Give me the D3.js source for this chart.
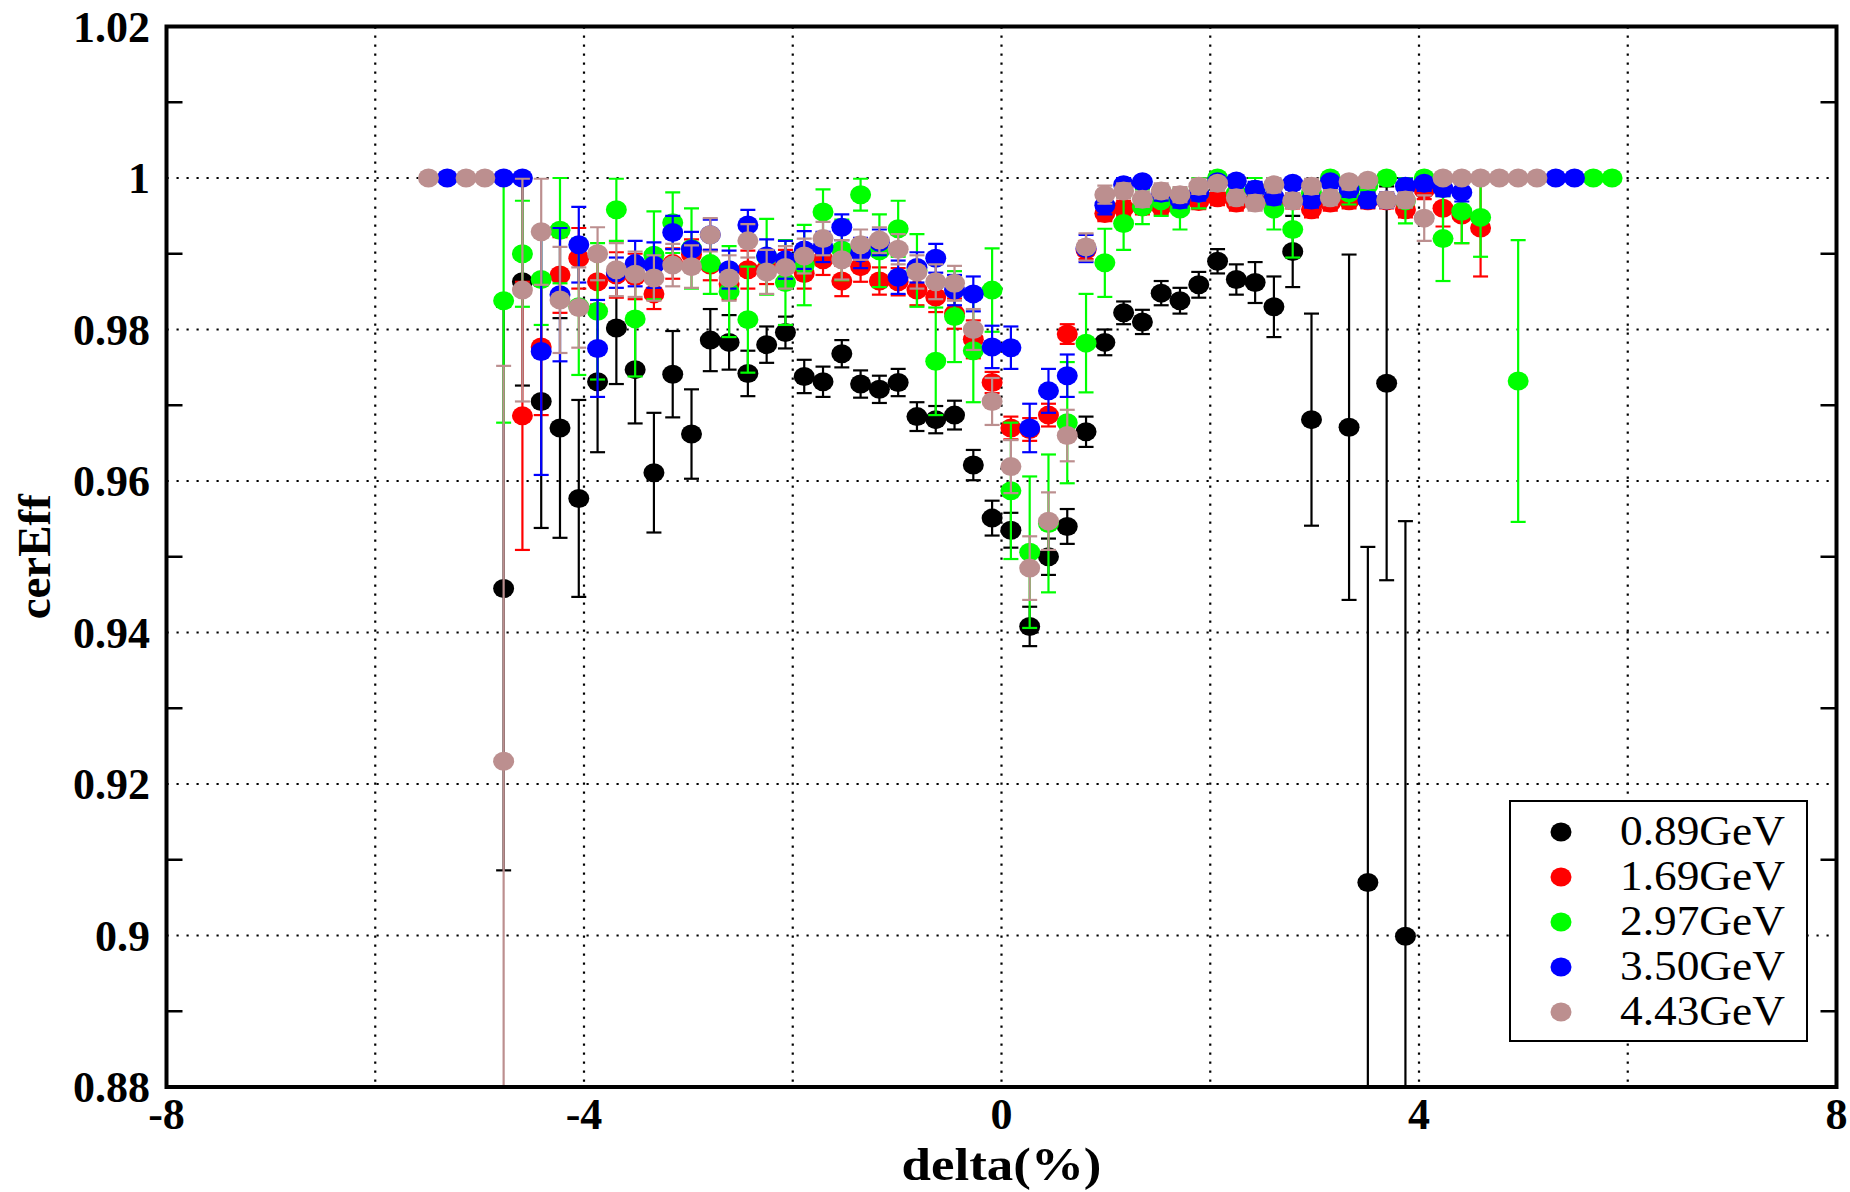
<!DOCTYPE html>
<html lang="en">
<head>
  <meta charset="UTF-8">
  <title>cerEff vs delta</title>
  <script src="https://d3js.org/d3.v7.min.js"></script>
  <style>
    body { margin: 0; background: #fff; }
    svg { display: block; }
    .tick-label { font-family: "Liberation Serif", "Times New Roman", serif; font-weight: bold; font-size: 44px; }
    .axis-title { font-family: "Liberation Serif", "Times New Roman", serif; font-weight: bold; font-size: 47px; }
    .x-title { font-size: 46px; }
    .legend-text { font-family: "Liberation Serif", "Times New Roman", serif; font-size: 42px; }
  </style>
</head>
<body>
<svg id="chart"></svg>
<script>
// bin centres of delta (%)
const deltaBins = [
  -5.49, -5.31, -5.13, -4.95, -4.77, -4.59, -4.41, -4.23, -4.05, -3.87, -3.69, -3.51, -3.33, -3.15, -2.97, -2.79,
  -2.61, -2.43, -2.25, -2.07, -1.89, -1.71, -1.53, -1.35, -1.17, -0.99, -0.81, -0.63, -0.45, -0.27, -0.09, 0.09,
  0.27, 0.45, 0.63, 0.81, 0.99, 1.17, 1.35, 1.53, 1.71, 1.89, 2.07, 2.25, 2.43, 2.61, 2.79, 2.97,
  3.15, 3.33, 3.51, 3.69, 3.87, 4.05, 4.23, 4.41, 4.59, 4.77, 4.95, 5.13, 5.31, 5.49, 5.67, 5.85
];

const eff089 = [
  null, null, null, null, 0.9458, 0.9863, 0.9705, 0.967, 0.9577, 0.9731, 0.9802, 0.9747, 0.9611, 0.9741, 0.9662, 0.9786,
  0.9783, 0.9742, 0.978, 0.9796, 0.9738, 0.9731, 0.9768, 0.9728, 0.9721, 0.973, 0.9685, 0.9681, 0.9687, 0.9621, 0.9551, 0.9535,
  0.9408, 0.950, 0.954, 0.9665, 0.9783, 0.9822, 0.981, 0.9848, 0.9838, 0.9859, 0.989, 0.9866, 0.9862, 0.983, 0.9903, 0.9681,
  null, 0.9671, 0.907, 0.9729, 0.8999, null, null, null, null, null, null, null, null, null, null, null
];
const err089 = [
  0, 0, 0, 0, 0.0372, 0.0137, 0.0167, 0.0145, 0.013, 0.0093, 0.0074, 0.0071, 0.0079, 0.0057, 0.0059, 0.0041,
  0.0036, 0.003, 0.0024, 0.0021, 0.0022, 0.002, 0.0018, 0.0018, 0.0018, 0.0018, 0.0019, 0.0018, 0.0019, 0.002, 0.0023, 0.0023,
  0.0026, 0.0024, 0.0023, 0.002, 0.0017, 0.0015, 0.0016, 0.0016, 0.0017, 0.0017, 0.0016, 0.002, 0.0027, 0.004, 0.0047, 0.014,
  0, 0.0228, 0.0443, 0.026, 0.0548, 0, 0, 0, 0, 0, 0, 0, 0, 0, 0, 0
];

const eff169 = [
  null, null, null, null, null, 0.9686, 0.9777, 0.9872, 0.9894, 0.9863, 0.9872, 0.987, 0.9847, 0.9887, 0.9899, 0.9885,
  0.986, 0.9879, 0.988, 0.9885, 0.9874, 0.9892, 0.9864, 0.9883, 0.9864, 0.9863, 0.9852, 0.9843, 0.9821, 0.9787, 0.973, 0.967,
  0.9668, 0.9687, 0.9794, 0.9905, 0.9953, 0.996, 0.9962, 0.9962, 0.9969, 0.9969, 0.9974, 0.9967, 0.997, 0.9969, 0.997, 0.9958,
  0.9967, 0.997, 0.997, 0.997, 0.9958, 0.9984, 0.996, 0.9951, 0.9934, null, null, null, null, null, null, null
];
const err169 = [
  0, 0, 0, 0, 0, 0.0177, 0.009, 0.005, 0.004, 0.003, 0.003, 0.003, 0.002, 0.002, 0.002, 0.002,
  0.002, 0.0025, 0.002, 0.002, 0.002, 0.002, 0.002, 0.002, 0.0018, 0.0018, 0.002, 0.002, 0.002, 0.0025, 0.0014, 0.0015,
  0.0015, 0.0015, 0.0013, 0.0012, 0.001, 0.001, 0.001, 0.001, 0.001, 0.001, 0.001, 0.001, 0.001, 0.001, 0.001, 0.001,
  0.001, 0.001, 0.001, 0.001, 0.001, 0.0012, 0.0024, 0.0037, 0.0064, 0, 0, 0, 0, 0, 0, 0
];

const eff297 = [
  null, null, null, null, 0.9838, 0.990, 0.9866, 0.9931, 0.983, 0.9824, 0.9958, 0.9814, 0.9898, 0.9941, 0.9907, 0.9887,
  0.985, 0.9813, 0.9896, 0.9862, 0.9885, 0.9955, 0.9905, 0.9978, 0.9904, 0.9933, 0.9878, 0.9758, 0.9817, 0.9772, 0.9852, 0.9587,
  0.9506, 0.9544, 0.9677, 0.9782, 0.9888, 0.994, 0.9962, 0.997, 0.9959, 0.998, 1.0, 0.998, 0.9985, 0.9959, 0.9932, 0.998,
  1.0, 0.998, 0.999, 1.0, 0.997, 1.0, 0.992, 0.9956, 0.9948, null, 0.9732, null, null, null, 1.0, 1.0
];
const err297 = [
  0, 0, 0, 0, 0.0161, 0.007, 0.006, 0.007, 0.009, 0.009, 0.0041, 0.0076, 0.0058, 0.004, 0.0053, 0.004,
  0.006, 0.007, 0.005, 0.0056, 0.0053, 0.003, 0.004, 0.0021, 0.0048, 0.0037, 0.0048, 0.0071, 0.006, 0.0068, 0.0055, 0.009,
  0.01, 0.0091, 0.008, 0.0065, 0.0045, 0.0035, 0.0023, 0.002, 0.0027, 0.002, 0, 0.0015, 0.0015, 0.0027, 0.0037, 0.0015,
  0, 0.0015, 0.001, 0, 0.003, 0, 0.0056, 0.0042, 0.0052, 0, 0.0186, 0, 0, 0, 0, 0
];

const eff350 = [
  null, 1.0, null, null, 1.0, 1.0, 0.9771, 0.9846, 0.9912, 0.9775, 0.9875, 0.9887, 0.9885, 0.9928, 0.9906, 0.9925,
  0.9879, 0.9938, 0.9897, 0.9892, 0.9905, 0.9909, 0.9935, 0.9901, 0.9915, 0.9869, 0.9882, 0.9894, 0.9852, 0.9847, 0.9777, 0.9776,
  0.967, 0.9719, 0.9739, 0.9907, 0.9964, 0.9991, 0.9995, 0.998, 0.9971, 0.998, 0.9995, 0.9996, 0.9985, 0.9975, 0.9993, 0.9971,
  0.9995, 0.9985, 0.9971, 0.9971, 0.9989, 0.9993, 0.9986, 0.9981, null, null, null, null, 1.0, 1.0, null, null
];
const err350 = [
  0, 0, 0, 0, 0, 0, 0.0163, 0.0088, 0.005, 0.0064, 0.002, 0.003, 0.003, 0.0022, 0.0023, 0.002,
  0.0025, 0.002, 0.0022, 0.0025, 0.0025, 0.002, 0.0017, 0.002, 0.0017, 0.0022, 0.002, 0.0019, 0.002, 0.0023, 0.0028, 0.0028,
  0.0032, 0.0029, 0.0028, 0.0018, 0.0012, 0.001, 0.0008, 0.001, 0.001, 0.001, 0.0008, 0.0008, 0.001, 0.001, 0.0008, 0.001,
  0.0008, 0.001, 0.001, 0.001, 0.001, 0.001, 0.001, 0.0012, 0, 0, 0, 0, 0, 0, 0, 0
];

const eff443 = [
  1.0, null, 1.0, 1.0, 0.923, 0.9852, 0.9929, 0.9839, 0.9829, 0.990, 0.9879, 0.9873, 0.9868, 0.9885, 0.9883, 0.9925,
  0.9868, 0.9917, 0.9876, 0.9882, 0.9897, 0.992, 0.9892, 0.9912, 0.9918, 0.9906, 0.9876, 0.9863, 0.9861, 0.980, 0.9705, 0.9619,
  0.9485, 0.9547, 0.966, 0.9909, 0.9978, 0.9983, 0.9972, 0.9983, 0.9978, 0.9989, 0.9993, 0.9974, 0.9967, 0.9991, 0.997, 0.9989,
  0.9974, 0.9995, 0.9997, 0.9971, 0.9971, 0.9947, 1.0, 1.0, 1.0, 1.0, 1.0, 1.0, null, null, null, null
];
const err443 = [
  0, 0, 0, 0, 0.0522, 0.0147, 0.007, 0.007, 0.0053, 0.0035, 0.0035, 0.003, 0.003, 0.0028, 0.0028, 0.0022,
  0.003, 0.0022, 0.0029, 0.0028, 0.0023, 0.0022, 0.0026, 0.002, 0.0017, 0.002, 0.0022, 0.0023, 0.0023, 0.0027, 0.0031, 0.0035,
  0.0042, 0.0038, 0.0034, 0.0018, 0.0012, 0.001, 0.001, 0.001, 0.001, 0.001, 0.001, 0.001, 0.001, 0.001, 0.001, 0.001,
  0.001, 0.001, 0.001, 0.001, 0.001, 0.003, 0, 0, 0, 0, 0, 0, 0, 0, 0, 0
];

const seriesNames = ["0.89GeV", "1.69GeV", "2.97GeV", "3.50GeV", "4.43GeV"];
const seriesColors = ["#000000", "#ff0000", "#00ff00", "#0000ff", "#bc8f8f"];
const seriesEff = [eff089, eff169, eff297, eff350, eff443];
const seriesErr = [err089, err169, err297, err350, err443];

const xTicks = [-8, -4, 0, 4, 8];
const xGrid = [-6, -4, -2, 0, 2, 4, 6];
const yTicks = [0.88, 0.9, 0.92, 0.94, 0.96, 0.98, 1.0, 1.02];
const yGrid = [0.9, 0.92, 0.94, 0.96, 0.98, 1.0];
const yMinor = [0.89, 0.91, 0.93, 0.95, 0.97, 0.99, 1.01];

const width = 1850, height = 1192;
const pLeft = 166.5, pRight = 1836.5, pTop = 26.5, pBottom = 1087;

const svg = d3.select("#chart").attr("width", width).attr("height", height);
svg.append("rect").attr("width", width).attr("height", height).attr("fill", "#fff");

const x = d3.scaleLinear().domain([-8, 8]).range([pLeft, pRight]);
const y = d3.scaleLinear().domain([0.88, 1.02]).range([pBottom, pTop]);

// grid
svg.append("g").selectAll("line").data(xGrid).join("line")
  .attr("x1", d => x(d)).attr("x2", d => x(d)).attr("y1", pTop).attr("y2", pBottom)
  .attr("stroke", "#000").attr("stroke-width", 2.2).attr("stroke-dasharray", "2.2 6.8");
svg.append("g").selectAll("line").data(yGrid).join("line")
  .attr("x1", pLeft).attr("x2", pRight).attr("y1", d => y(d)).attr("y2", d => y(d))
  .attr("stroke", "#000").attr("stroke-width", 2.2).attr("stroke-dasharray", "2.2 7.8");

// minor ticks on left and right
const minor = svg.append("g").attr("stroke", "#000").attr("stroke-width", 2.5);
minor.selectAll(".l").data(yMinor).join("line").attr("class", "l")
  .attr("x1", pLeft).attr("x2", pLeft + 16).attr("y1", d => y(d)).attr("y2", d => y(d));
minor.selectAll(".r").data(yMinor).join("line").attr("class", "r")
  .attr("x1", pRight - 16).attr("x2", pRight).attr("y1", d => y(d)).attr("y2", d => y(d));

// data
svg.append("clipPath").attr("id", "plotclip").append("rect")
  .attr("x", pLeft).attr("y", pTop).attr("width", pRight - pLeft).attr("height", pBottom - pTop);
const plot = svg.append("g").attr("clip-path", "url(#plotclip)");

seriesEff.forEach((eff, s) => {
  const pts = deltaBins.map((d, i) => ({ d, v: eff[i], e: seriesErr[s][i] })).filter(p => p.v != null);
  const g = plot.append("g").attr("stroke", seriesColors[s]).attr("fill", seriesColors[s]);
  const bars = pts.filter(p => p.e > 0);
  const hi = p => Math.min(1.0, p.v + p.e);
  g.selectAll(".bar").data(bars).join("line").attr("class", "bar")
    .attr("x1", p => x(p.d)).attr("x2", p => x(p.d))
    .attr("y1", p => y(hi(p))).attr("y2", p => y(p.v - p.e))
    .attr("stroke-width", 2.2);
  g.selectAll(".capt").data(bars).join("line").attr("class", "capt")
    .attr("x1", p => x(p.d) - 7.5).attr("x2", p => x(p.d) + 7.5)
    .attr("y1", p => y(hi(p))).attr("y2", p => y(hi(p)))
    .attr("stroke-width", 2.2);
  g.selectAll(".capb").data(bars).join("line").attr("class", "capb")
    .attr("x1", p => x(p.d) - 7.5).attr("x2", p => x(p.d) + 7.5)
    .attr("y1", p => y(p.v - p.e)).attr("y2", p => y(p.v - p.e))
    .attr("stroke-width", 2.2);
  g.selectAll("ellipse").data(pts).join("ellipse")
    .attr("cx", p => x(p.d)).attr("cy", p => y(p.v))
    .attr("rx", 10.5).attr("ry", 9.5).attr("stroke", "none");
});

// frame
svg.append("rect").attr("x", pLeft).attr("y", pTop).attr("width", pRight - pLeft).attr("height", pBottom - pTop)
  .attr("fill", "none").attr("stroke", "#000").attr("stroke-width", 4);

// tick labels
svg.append("g").selectAll("text").data(yTicks).join("text")
  .attr("class", "tick-label")
  .attr("x", 150).attr("y", d => y(d)).attr("dy", "0.35em")
  .attr("text-anchor", "end")
  .text(d => String(+d.toFixed(2)));
svg.append("g").selectAll("text").data(xTicks).join("text")
  .attr("class", "tick-label")
  .attr("x", d => x(d)).attr("y", 1129)
  .attr("text-anchor", "middle")
  .text(d => d);

// axis titles (the original lettering is a little wider than Times)
svg.append("text").attr("class", "axis-title")
  .attr("transform", `translate(50,${(pTop + pBottom) / 2}) rotate(-90)`)
  .attr("text-anchor", "middle").text("cerEff");
svg.append("text").attr("class", "axis-title x-title")
  .attr("transform", `translate(${(pLeft + pRight) / 2},1180) scale(1.15,1)`)
  .attr("text-anchor", "middle").text("delta(%)");

// legend
const legend = svg.append("g");
legend.append("rect").attr("x", 1510).attr("y", 801).attr("width", 297).attr("height", 240)
  .attr("fill", "#fff").attr("stroke", "#000").attr("stroke-width", 2);
seriesNames.forEach((name, i) => {
  legend.append("ellipse").attr("cx", 1561).attr("cy", 832 + 45 * i)
    .attr("rx", 10.5).attr("ry", 9.5).attr("fill", seriesColors[i]);
  legend.append("text").attr("class", "legend-text")
    .attr("transform", `translate(1620,${845 + 45 * i}) scale(1.08,1)`)
    .text(name);
});
</script>
</body>
</html>
